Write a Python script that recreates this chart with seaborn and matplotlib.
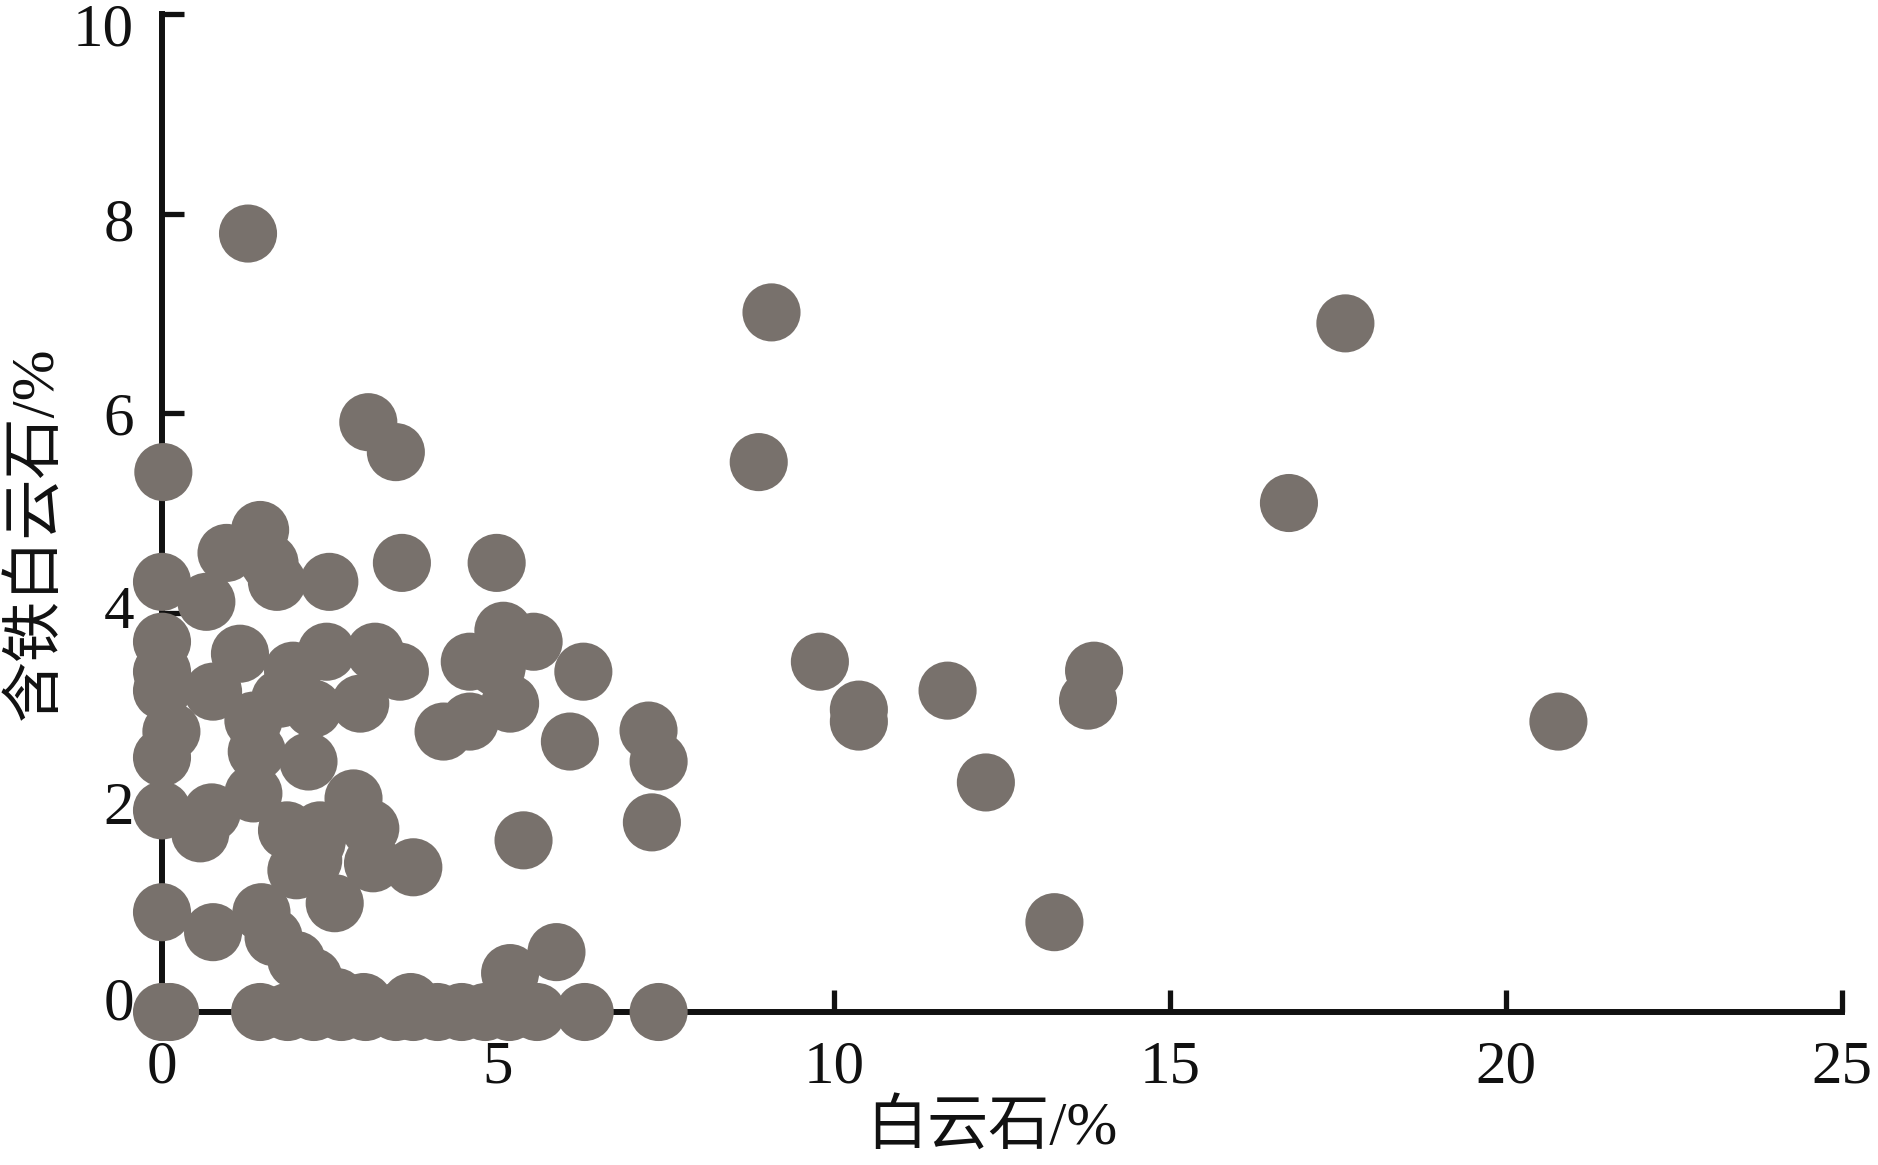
import matplotlib
matplotlib.use("Agg")
import matplotlib.pyplot as plt
import matplotlib.transforms as mtransforms
import seaborn as sns
import pandas as pd

# dolomite (%) vs ferroan dolomite (%)
dolomite = [
    1.28, 9.07, 17.61, 8.88, 16.77, 3.07, 3.48, 0.02, 9.79, 10.37,
    10.37, 11.69, 13.87, 13.78, 20.78, 12.26, 13.28,
    3.57, 4.98, 5.08, 5.53, 4.58, 4.98, 5.18, 6.27, 4.19, 4.58,
    6.07, 7.24, 7.39, 7.29, 5.38, 5.87, 5.18, 3.54, 3.74,
    0.00, 0.66, 0.96, 1.46, 1.60, 1.71, 2.49, 3.17, 2.45, 1.95,
    1.16, 0.76, 0.00, 0.00, 0.00, 0.14, 0.00, 2.95, 2.25, 1.76,
    1.36, 1.41, 2.18, 2.85, 1.36, 0.00, 0.57, 0.74, 1.86, 2.35,
    3.10, 2.25, 2.00, 2.57, 3.14, 2.30, 0.00, 0.76, 1.48, 1.66,
    2.00, 2.25, 2.60, 3.00, 3.70,
    0.00, 0.12, 1.46, 1.87, 2.26, 2.67, 3.03, 3.48, 3.74, 4.10,
    4.46, 4.81, 5.17, 5.58, 6.29, 7.39,
]
fe_dolomite = [
    7.80, 7.01, 6.90, 5.51, 5.10, 5.91, 5.61, 5.41, 3.51, 3.03,
    2.91, 3.22, 3.42, 3.12, 2.91, 2.30, 0.90,
    4.50, 4.50, 3.82, 3.71, 3.51, 3.45, 3.09, 3.41, 2.81, 2.91,
    2.71, 2.82, 2.51, 1.90, 1.72, 0.60, 0.39, 3.41, 1.45,
    4.31, 4.11, 4.60, 4.83, 4.50, 4.31, 4.31, 3.61, 3.61, 3.42,
    3.59, 3.21, 3.71, 3.41, 3.22, 2.81, 2.55, 3.09, 3.04, 3.14,
    2.92, 2.61, 2.51, 2.14, 2.19, 2.02, 1.79, 2.00, 1.82, 1.82,
    1.84, 1.52, 1.42, 1.09, 1.49, 1.70, 1.00, 0.80, 1.00, 0.75,
    0.52, 0.35, 0.15, 0.10, 0.10,
    0.00, 0.00, 0.00, 0.00, 0.00, 0.00, 0.00, 0.00, 0.00, 0.00,
    0.00, 0.00, 0.00, 0.00, 0.00, 0.00,
]

x_ticks = [0, 5, 10, 15, 20, 25]
y_ticks = [0, 2, 4, 6, 8, 10]

df = pd.DataFrame({"dolomite": dolomite, "fe_dolomite": fe_dolomite})

sns.set_style("white")
plt.rcParams["font.family"] = ["Liberation Serif", "Noto Sans CJK SC"]

fig = plt.figure(figsize=(18.78, 11.65), dpi=100)
ax = fig.add_axes([162 / 1878, 153 / 1165, 1680 / 1878, 998 / 1165])

sns.scatterplot(data=df, x="dolomite", y="fe_dolomite", ax=ax,
                s=1750, color="#78716c", edgecolor="none", linewidth=0,
                clip_on=False, zorder=3, legend=False)

ax.set_xlim(0, 25)
ax.set_ylim(0, 10)
ax.set_xticks(x_ticks)
ax.set_yticks(y_ticks)
ax.set_xticklabels([str(t) for t in x_ticks])
ax.set_yticklabels([str(t) for t in y_ticks])

for side in ["top", "right"]:
    ax.spines[side].set_visible(False)
for side in ["left", "bottom"]:
    ax.spines[side].set_linewidth(4.3)
    ax.spines[side].set_color("#111111")

ax.tick_params(axis="both", direction="in", length=16, width=3.8,
               color="#111111", labelsize=44, labelcolor="#111111",
               bottom=True, left=True)
ax.tick_params(axis="y", pad=20)
ax.tick_params(axis="x", pad=20)

# y tick labels in the original sit slightly off their ticks
shifts = [14, 10, 6, 0, -6, -10]
for lab, dy in zip(ax.get_yticklabels(), shifts):
    off = mtransforms.ScaledTranslation(0, dy / 100, fig.dpi_scale_trans)
    lab.set_transform(lab.get_transform() + off)

ax.set_xlabel("白云石/%", fontsize=44, color="#111111")
ax.set_ylabel("含铁白云石/%", fontsize=44, color="#111111")
ax.xaxis.set_label_coords(0.494, -0.088)
ax.yaxis.set_label_coords(-0.058, 0.48)

fig.savefig("out.png", dpi=100)
